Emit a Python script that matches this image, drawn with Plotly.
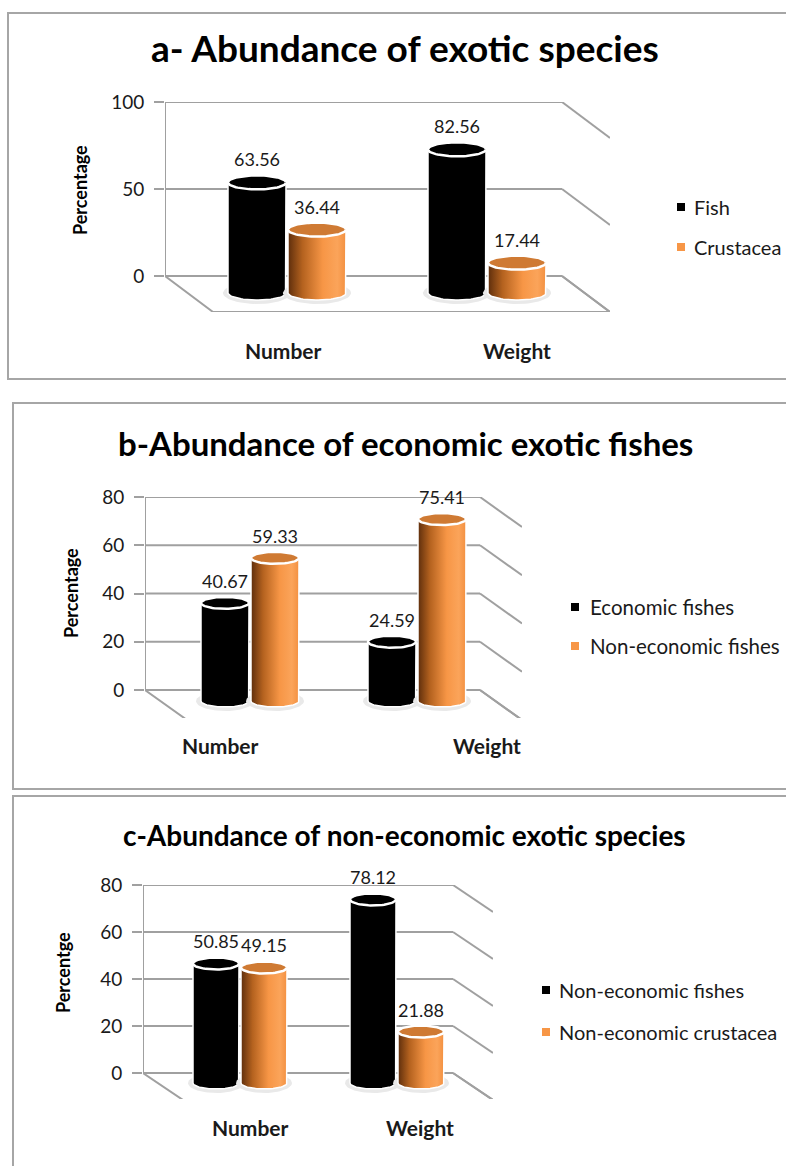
import numpy as np
import plotly.graph_objects as go

W, H = 786, 1166
TOP = 12            # top inset of the drawing area, px
FONT = "Lato"
TXT = "#1a1a1a"

categories = ["Number", "Weight"]

# a- exotic species
a_series = ["Fish", "Crustacea"]
a_fish = [63.56, 82.56]
a_crustacea = [36.44, 17.44]
a_ticks = [0, 50, 100]

# b- economic exotic fishes
b_series = ["Economic fishes", "Non-economic fishes"]
b_economic = [40.67, 24.59]
b_non_economic = [59.33, 75.41]
b_ticks = [0, 20, 40, 60, 80]

# c- non-economic exotic species
c_series = ["Non-economic fishes", "Non-economic crustacea"]
c_fishes = [50.85, 78.12]
c_crustacea = [49.15, 21.88]
c_ticks = [0, 20, 40, 60, 80]

titles = ["a- Abundance of exotic species",
          "b-Abundance of economic exotic fishes",
          "c-Abundance of non-economic exotic species"]
y_titles = ["Percentage", "Percentage", "Percentge"]

series_colors = ["#000000", "#f79646"]
top_colors = ["#000000", "#cf7a33"]
orange_gradient = [[0, "#5e2e0c"], [0.25, "#b4621f"], [0.6, "#f79646"],
                   [0.85, "#fba45a"], [1, "#f39040"]]

panels = [
    dict(series=a_series, values=[a_fish, a_crustacea], ticks=a_ticks,
         box=(8, 13, 379), title=(405, 48, 37),
         wall=(165, 562, 102, 276, 312), depth=(48, 36), base_px=293,
         centers=(287, 200), sep=30, half_w=29, ry=7,
         ytitle=(80, 190), cat_y=351, cat_shift=(-4, 30),
         legend=(681, 692, (207, 247)), lab_size=18, leg_size=20),
    dict(series=b_series, values=[b_economic, b_non_economic], ticks=b_ticks,
         box=(13, 403, 789), title=(405, 443, 33),
         wall=(145, 480, 497, 690, 718), depth=(42, 30), base_px=701,
         centers=(250, 167), sep=25, half_w=24, ry=6,
         ytitle=(71, 593), cat_y=745, cat_shift=(-30, 70),
         legend=(575, 588, (607, 646)), lab_size=18, leg_size=20.5),
    dict(series=c_series, values=[c_fishes, c_crustacea], ticks=c_ticks,
         box=(13, 796, 1220), title=(404, 835, 28),
         wall=(143, 453, 885, 1073, 1099), depth=(40, 27), base_px=1083,
         centers=(240, 157), sep=24, half_w=23, ry=6,
         ytitle=(63, 972), cat_y=1127, cat_shift=(10, 23),
         legend=(546, 557, (990, 1032)), lab_size=18, leg_size=20),
]


def ref(prefix, n):
    return prefix if n == 1 else f"{prefix}{n}"


def px(x):
    return x / W


def py(y):
    return 1 - (y - TOP) / (H - TOP)


fig = go.Figure()
shapes, annotations, layout_axes = [], [], {}
theta_full = np.linspace(0, 2 * np.pi, 72)
theta_low = np.linspace(0, -np.pi, 36)

for k, p in enumerate(panels, start=1):
    xr, yw, yc = ref("x", k), ref("y", 2 * k - 1), ref("y", 2 * k)
    x_left, x_right, y_top, y_zero, y_front = p["wall"]
    dx, dy = p["depth"]
    ymax = p["ticks"][-1]
    scale = (y_zero - y_top) / ymax            # px per percentage point
    c0, sp = p["centers"]                       # first category centre, px per category
    wall_min = -(y_front - y_zero) / scale
    lift = (p["base_px"] - y_zero) / scale      # cylinders stand in front of the back wall

    layout_axes[ref("xaxis", k)] = dict(
        domain=[px(x_left), px(x_right + dx)],
        range=[(x_left - c0) / sp, (x_right + dx - c0) / sp],
        visible=False, anchor=yw, fixedrange=True)
    layout_axes[ref("yaxis", 2 * k - 1)] = dict(
        domain=[py(y_front), py(y_top)], range=[wall_min, ymax],
        tickvals=p["ticks"], ticks="outside", ticklen=10, tickwidth=2,
        tickcolor="#a0a0a0", showgrid=False, zeroline=False, showline=False,
        tickfont=dict(family=FONT, size=19, color=TXT), ticklabelstandoff=6,
        anchor=xr, fixedrange=True)
    layout_axes[ref("yaxis", 2 * k)] = dict(
        overlaying=yw, range=[wall_min + lift, ymax + lift], visible=False,
        anchor=xr, fixedrange=True)

    # back wall gridlines, right-hand ledges and floor of the 3-D box
    xl_u = (x_left - c0) / sp
    xr_u = (x_right - c0) / sp
    dx_u, dy_u = dx / sp, dy / scale
    grid = dict(color="#a0a0a0", width=2)
    for t in p["ticks"]:
        shapes.append(dict(type="line", xref=xr, yref=yw, x0=xl_u, x1=xr_u,
                           y0=t, y1=t, line=grid, layer="below"))
        shapes.append(dict(type="line", xref=xr, yref=yw, x0=xr_u, x1=xr_u + dx_u,
                           y0=t, y1=t - dy_u, line=grid, layer="below"))
    shapes.append(dict(type="line", xref=xr, yref=yw, x0=xl_u, x1=xl_u,
                       y0=0, y1=ymax, line=grid, layer="below"))
    shapes.append(dict(type="path", xref=xr, yref=yw, layer="below", line=grid,
                       path=f"M{xl_u},0 L{xl_u + dx_u},{-dy_u} "
                            f"L{xr_u + dx_u},{-dy_u} L{xr_u},0"))

    # cylinders: floor shadow, shaded body, elliptical lid, value label
    hw = p["half_w"] / sp
    ry = p["ry"] / scale
    for s, vals in enumerate(p["values"]):
        shift = (s - 0.5) * 2 * p["sep"] / sp
        for i, v in enumerate(vals):
            cx = i + shift
            sx = cx + (hw + 5 / sp) * np.cos(theta_full)
            sy = (ry + 4 / scale) * np.sin(theta_full)
            fig.add_trace(go.Scatter(x=sx, y=sy, xaxis=xr, yaxis=yc, mode="lines",
                                     fill="toself", fillcolor="#e9e9e9",
                                     line=dict(width=0), hoverinfo="skip",
                                     showlegend=False))
            bx = np.concatenate([[cx - hw, cx - hw, cx + hw],
                                 cx + hw * np.cos(theta_low)])
            by = np.concatenate([[0, v, v], ry * np.sin(theta_low)])
            body = dict(x=bx, y=by, xaxis=xr, yaxis=yc, mode="lines", fill="toself",
                        line=dict(color="white", width=1.5), showlegend=False,
                        name=p["series"][s],
                        hovertemplate=f"{categories[i]}: {v:.2f}<extra></extra>")
            if s == 1:
                body["fillgradient"] = dict(type="horizontal", colorscale=orange_gradient)
            else:
                body["fillcolor"] = series_colors[0]
            fig.add_trace(go.Scatter(**body))
            tx = cx + hw * np.cos(theta_full)
            ty = v + ry * np.sin(theta_full)
            fig.add_trace(go.Scatter(x=tx, y=ty, xaxis=xr, yaxis=yc, mode="lines",
                                     fill="toself", fillcolor=top_colors[s],
                                     line=dict(color="white", width=2.5),
                                     hoverinfo="skip", showlegend=False))
            annotations.append(dict(xref=xr, yref=yc, x=cx, y=v, text=f"{v:.2f}",
                                    showarrow=False, xanchor="center", yanchor="bottom",
                                    yshift=p["ry"] + 3,
                                    font=dict(family=FONT, size=p["lab_size"], color=TXT)))

    # category names under the floor
    for i, c in enumerate(categories):
        annotations.append(dict(xref=xr, yref="paper", x=i, y=py(p["cat_y"]),
                                xshift=p["cat_shift"][i], text=c, showarrow=False,
                                xanchor="center", yanchor="middle",
                                font=dict(family=FONT, size=21, color=TXT, weight="bold")))

    tx_, ty_, ts_ = p["title"]
    annotations.append(dict(xref="paper", yref="paper", x=px(tx_), y=py(ty_),
                            text=titles[k - 1], showarrow=False,
                            xanchor="center", yanchor="middle",
                            font=dict(family=FONT, size=ts_, color="#000", weight="bold")))
    yx, yy = p["ytitle"]
    annotations.append(dict(xref="paper", yref="paper", x=px(yx), y=py(yy),
                            text=y_titles[k - 1], textangle=-90, showarrow=False,
                            xanchor="center", yanchor="middle",
                            font=dict(family=FONT, size=18, color="#000", weight="bold")))

    # legend: small squares with series names
    mx, lx, ys = p["legend"]
    for s, name in enumerate(p["series"]):
        yy_ = ys[s]
        shapes.append(dict(type="rect", xref="paper", yref="paper",
                           x0=px(mx - 4), x1=px(mx + 4),
                           y0=py(yy_ + 4), y1=py(yy_ - 4),
                           fillcolor=series_colors[s], line=dict(width=0)))
        annotations.append(dict(xref="paper", yref="paper", x=px(lx), y=py(yy_),
                                text=name, showarrow=False, xanchor="left",
                                yanchor="middle",
                                font=dict(family=FONT, size=p["leg_size"], color=TXT)))

    # panel frame
    bx0, by0, by1 = p["box"]
    shapes.append(dict(type="rect", xref="paper", yref="paper",
                       x0=px(bx0), x1=px(W + 20), y0=py(by1), y1=py(by0),
                       line=dict(color="#a6a6a6", width=2), layer="below"))

fig.update_layout(width=W, height=H, margin=dict(l=0, r=0, t=0, b=0),
                  paper_bgcolor="white", plot_bgcolor="rgba(0,0,0,0)",
                  shapes=shapes, annotations=annotations, showlegend=False,
                  **layout_axes)
fig.write_html("out.html")
